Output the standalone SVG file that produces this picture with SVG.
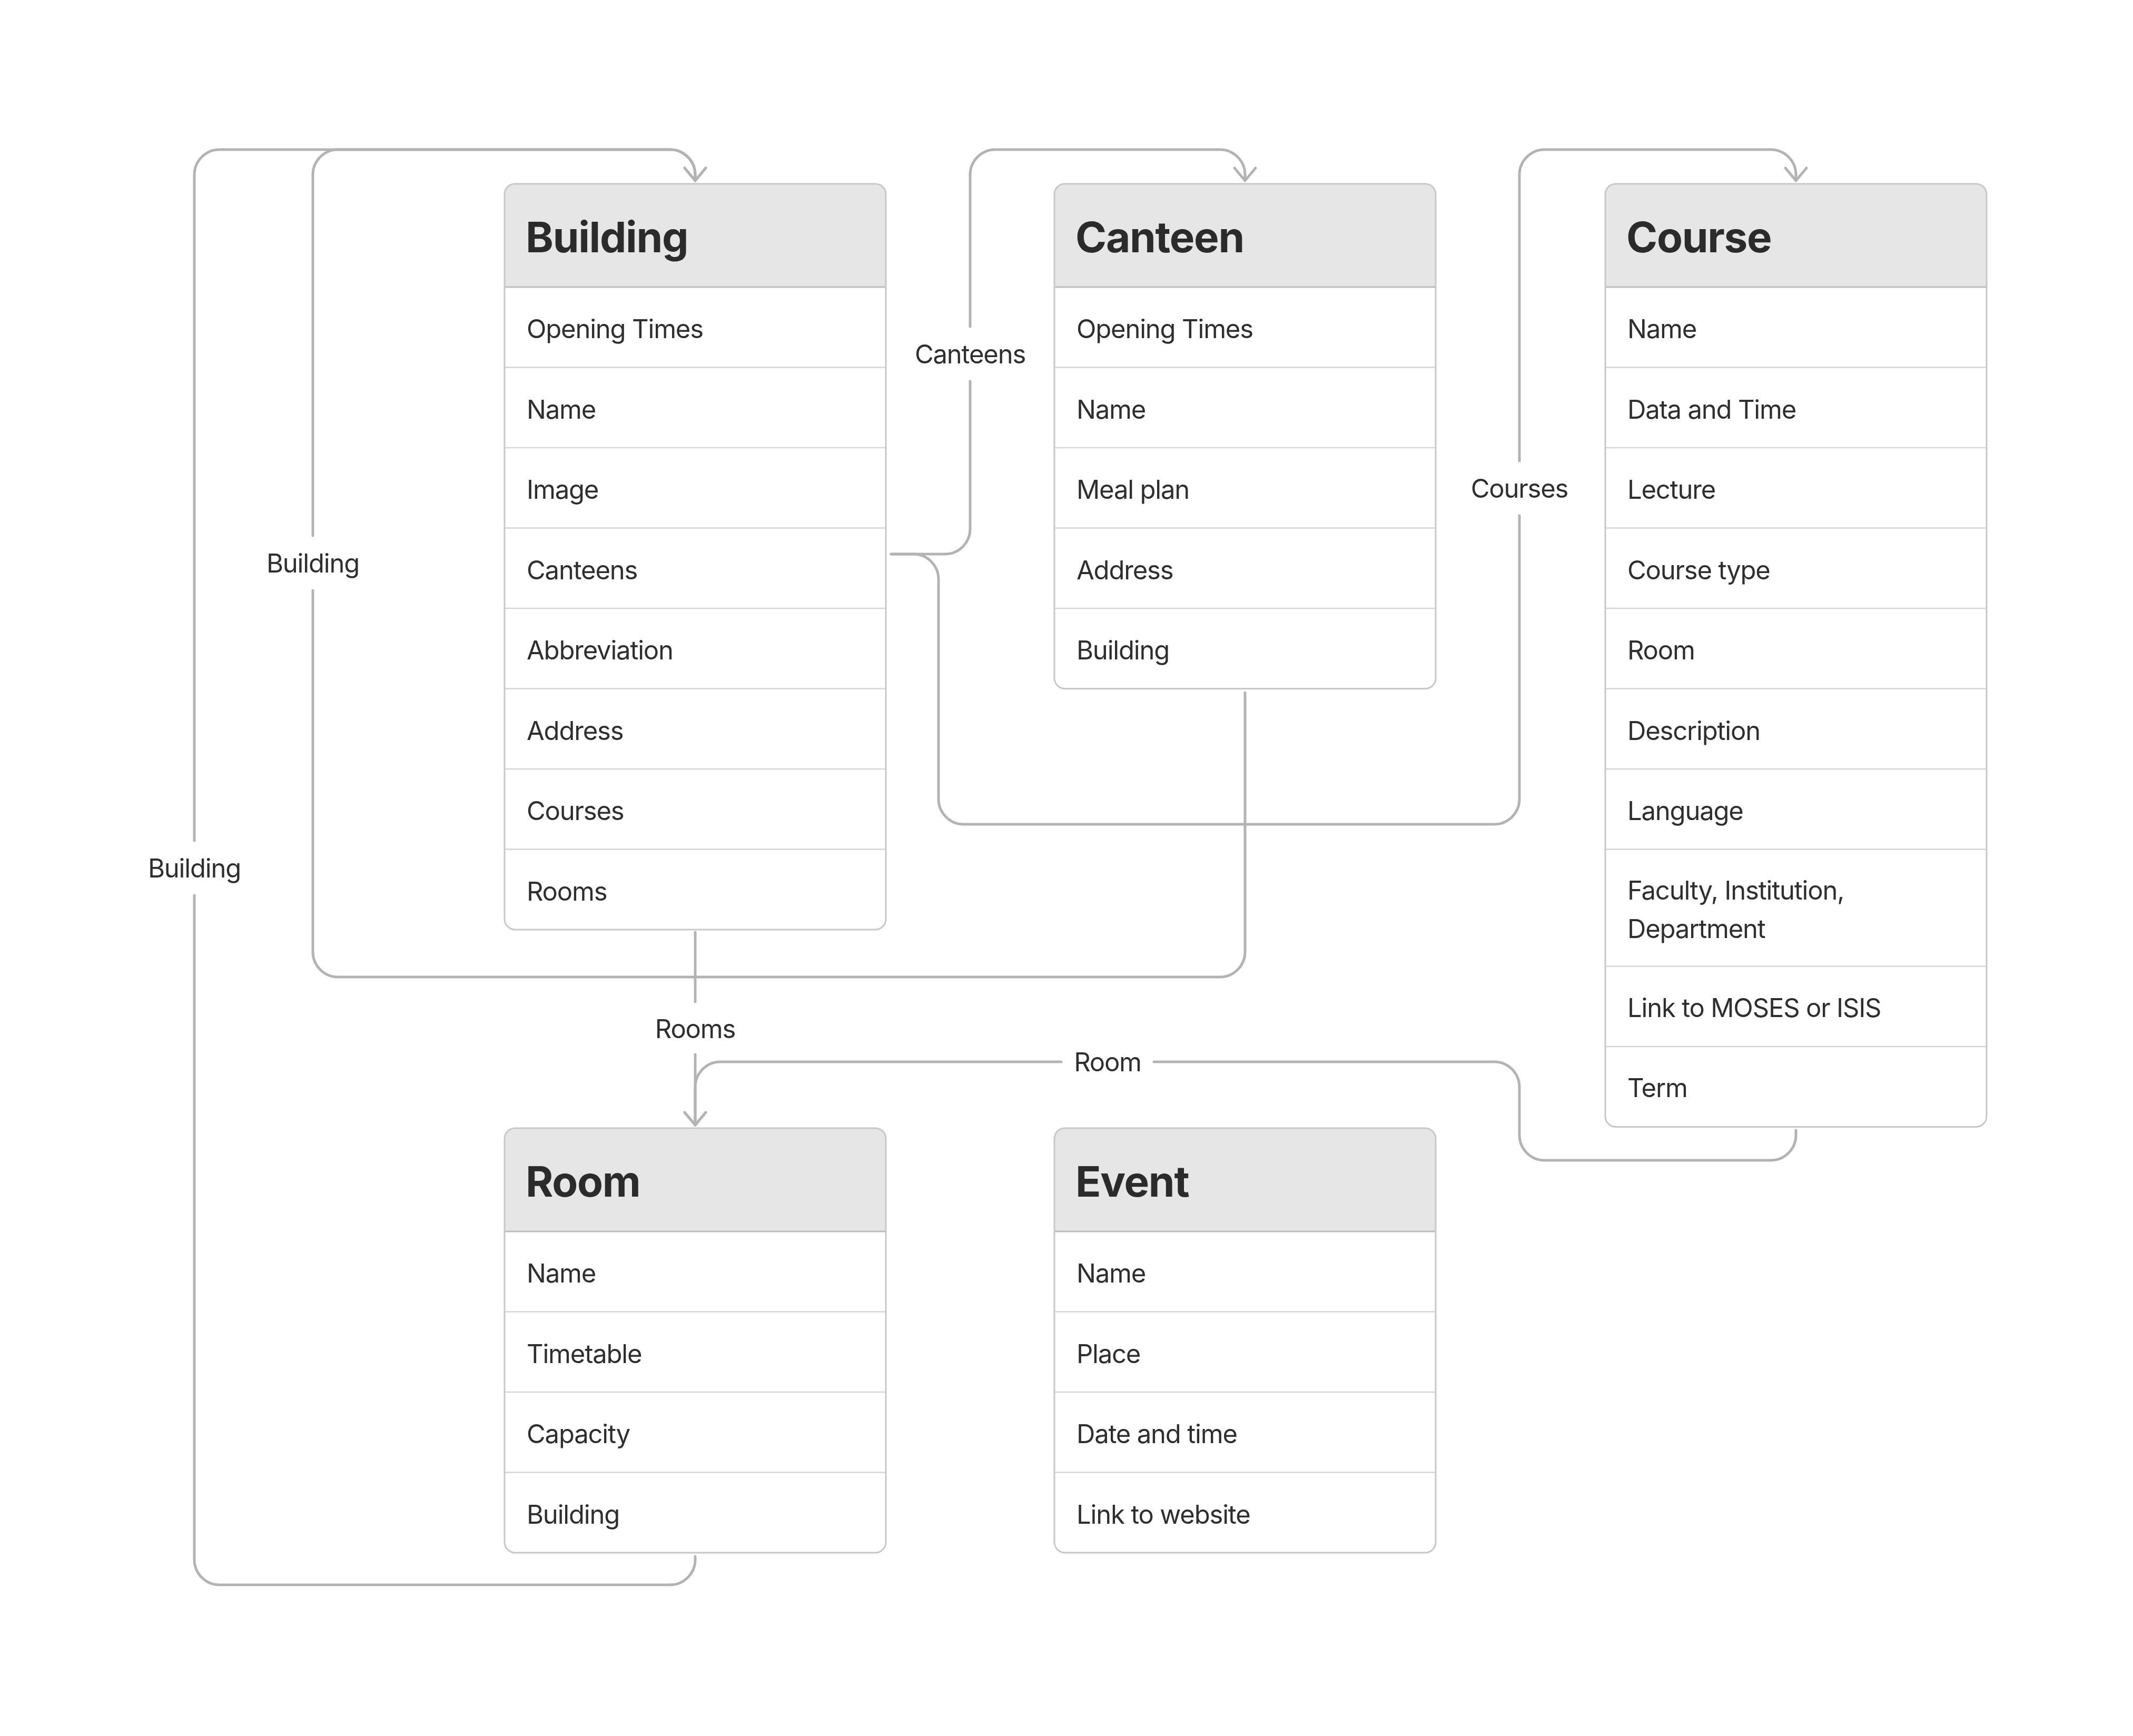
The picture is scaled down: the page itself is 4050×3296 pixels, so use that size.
<svg xmlns="http://www.w3.org/2000/svg" width="4050" height="3296" viewBox="0 0 4050 3296">
<style>
.bg{fill:#ffffff;stroke:none}
.hd{fill:#e6e6e6;stroke:none}
.bd{fill:none;stroke:#c8c8c8;stroke-width:3}
.hl{stroke:#bcbcbc;stroke-width:3}
.sep{stroke:#d6d6d6;stroke-width:2.5}
.title{font-family:Inter,"Liberation Sans",sans-serif;font-weight:700;font-size:80px;letter-spacing:-1.3px;fill:#2b2b2b}
.row{font-family:Inter,"Liberation Sans",sans-serif;font-size:49px;letter-spacing:-1.2px;fill:#2e2e2e}
.lbl{font-family:Inter,"Liberation Sans",sans-serif;font-size:49px;letter-spacing:-1.2px;fill:#2e2e2e;text-anchor:middle}
.con{fill:none;stroke:#b3b3b3;stroke-width:5;stroke-linecap:round}
</style>
<defs>
<marker id="arr" markerUnits="userSpaceOnUse" markerWidth="70" markerHeight="70" viewBox="-35 -35 70 70" refX="0" refY="0" orient="auto">
<path d="M-24,-20 L0,0 L-24,20" fill="none" stroke="#b3b3b3" stroke-width="5" stroke-linecap="round" stroke-linejoin="round"/>
</marker>
</defs>
<rect x="0" y="0" width="4050" height="3296" fill="#ffffff"/>

<g id="connectors">
<path class="con" d="M1692,1052 H1794 A48,48 0 0 0 1842,1004 V724"/>
<path class="con" marker-end="url(#arr)" d="M1842,620 V332 A48,48 0 0 1 1890,284 H2316 A48,48 0 0 1 2364,332 V343"/>
<path class="con" d="M1692,1052 H1734 A48,48 0 0 1 1782,1100 V1517 A48,48 0 0 0 1830,1565 H2837 A48,48 0 0 0 2885,1517 V979"/>
<path class="con" marker-end="url(#arr)" d="M2885,875 V332 A48,48 0 0 1 2933,284 H3362 A48,48 0 0 1 3410,332 V343"/>
<path class="con" d="M1320,2955 V2961 A48,48 0 0 1 1272,3009 H417 A48,48 0 0 1 369,2961 V1700"/>
<path class="con" marker-end="url(#arr)" d="M369,1596 V332 A48,48 0 0 1 417,284 H1272 A48,48 0 0 1 1320,332 V343"/>
<path class="con" d="M2364,1315 V1807 A48,48 0 0 1 2316,1855 H642 A48,48 0 0 1 594,1807 V1121"/>
<path class="con" marker-end="url(#arr)" d="M594,1017 V332 A48,48 0 0 1 642,284 H1272 A48,48 0 0 1 1320,332 V343"/>
<path class="con" d="M1320,1770 V1902"/>
<path class="con" marker-end="url(#arr)" d="M1320,2002 V2136"/>
<path class="con" d="M3410,2146 V2155 A48,48 0 0 1 3362,2203 H2933 A48,48 0 0 1 2885,2155 V2064 A48,48 0 0 0 2837,2016 H2191"/>
<path class="con" marker-end="url(#arr)" d="M2015,2016 H1368 A48,48 0 0 0 1320,2064 V2136"/>
<text class="lbl" x="1842" y="690">Canteens</text>
<text class="lbl" x="2885" y="945">Courses</text>
<text class="lbl" x="594" y="1087">Building</text>
<text class="lbl" x="369" y="1666">Building</text>
<text class="lbl" x="1320" y="1971">Rooms</text>
<text class="lbl" x="2103" y="2034">Room</text>
</g>

<g id="building">
<rect class="bg" x="958" y="349" width="724" height="1416" rx="20"/>
<path class="hd" d="M958,545 V369 A20,20 0 0 1 978,349 H1662 A20,20 0 0 1 1682,369 V545 Z"/>
<line class="hl" x1="958" y1="545" x2="1682" y2="545"/>
<line class="sep" x1="958" y1="697.5" x2="1682" y2="697.5"/>
<line class="sep" x1="958" y1="850" x2="1682" y2="850"/>
<line class="sep" x1="958" y1="1002.5" x2="1682" y2="1002.5"/>
<line class="sep" x1="958" y1="1155" x2="1682" y2="1155"/>
<line class="sep" x1="958" y1="1307.5" x2="1682" y2="1307.5"/>
<line class="sep" x1="958" y1="1460" x2="1682" y2="1460"/>
<line class="sep" x1="958" y1="1612.5" x2="1682" y2="1612.5"/>
<rect class="bd" x="958" y="349" width="724" height="1416" rx="20"/>
<text class="title" x="998" y="479">Building</text>
<text class="row" x="1000" y="642">Opening Times</text>
<text class="row" x="1000" y="795">Name</text>
<text class="row" x="1000" y="947">Image</text>
<text class="row" x="1000" y="1100">Canteens</text>
<text class="row" x="1000" y="1252">Abbreviation</text>
<text class="row" x="1000" y="1405">Address</text>
<text class="row" x="1000" y="1557">Courses</text>
<text class="row" x="1000" y="1710">Rooms</text>
</g>

<g id="canteen">
<rect class="bg" x="2002" y="349" width="724" height="958.5" rx="20"/>
<path class="hd" d="M2002,545 V369 A20,20 0 0 1 2022,349 H2706 A20,20 0 0 1 2726,369 V545 Z"/>
<line class="hl" x1="2002" y1="545" x2="2726" y2="545"/>
<line class="sep" x1="2002" y1="697.5" x2="2726" y2="697.5"/>
<line class="sep" x1="2002" y1="850" x2="2726" y2="850"/>
<line class="sep" x1="2002" y1="1002.5" x2="2726" y2="1002.5"/>
<line class="sep" x1="2002" y1="1155" x2="2726" y2="1155"/>
<rect class="bd" x="2002" y="349" width="724" height="958.5" rx="20"/>
<text class="title" x="2042" y="479">Canteen</text>
<text class="row" x="2044" y="642">Opening Times</text>
<text class="row" x="2044" y="795">Name</text>
<text class="row" x="2044" y="947">Meal plan</text>
<text class="row" x="2044" y="1100">Address</text>
<text class="row" x="2044" y="1252">Building</text>
</g>

<g id="course">
<rect class="bg" x="3048" y="349" width="724" height="1790.5" rx="20"/>
<path class="hd" d="M3048,545 V369 A20,20 0 0 1 3068,349 H3752 A20,20 0 0 1 3772,369 V545 Z"/>
<line class="hl" x1="3048" y1="545" x2="3772" y2="545"/>
<line class="sep" x1="3048" y1="697.5" x2="3772" y2="697.5"/>
<line class="sep" x1="3048" y1="850" x2="3772" y2="850"/>
<line class="sep" x1="3048" y1="1002.5" x2="3772" y2="1002.5"/>
<line class="sep" x1="3048" y1="1155" x2="3772" y2="1155"/>
<line class="sep" x1="3048" y1="1307.5" x2="3772" y2="1307.5"/>
<line class="sep" x1="3048" y1="1460" x2="3772" y2="1460"/>
<line class="sep" x1="3048" y1="1612.5" x2="3772" y2="1612.5"/>
<line class="sep" x1="3048" y1="1834.5" x2="3772" y2="1834.5"/>
<line class="sep" x1="3048" y1="1987" x2="3772" y2="1987"/>
<rect class="bd" x="3048" y="349" width="724" height="1790.5" rx="20"/>
<text class="title" x="3088" y="479">Course</text>
<text class="row" x="3090" y="642">Name</text>
<text class="row" x="3090" y="795">Data and Time</text>
<text class="row" x="3090" y="947">Lecture</text>
<text class="row" x="3090" y="1100">Course type</text>
<text class="row" x="3090" y="1252">Room</text>
<text class="row" x="3090" y="1405">Description</text>
<text class="row" x="3090" y="1557">Language</text>
<text class="row" x="3090" y="1708">Faculty, Institution,</text>
<text class="row" x="3090" y="1781">Department</text>
<text class="row" x="3090" y="1931">Link to MOSES or ISIS</text>
<text class="row" x="3090" y="2083">Term</text>
</g>

<g id="room">
<rect class="bg" x="958" y="2142" width="724" height="806" rx="20"/>
<path class="hd" d="M958,2338 V2162 A20,20 0 0 1 978,2142 H1662 A20,20 0 0 1 1682,2162 V2338 Z"/>
<line class="hl" x1="958" y1="2338" x2="1682" y2="2338"/>
<line class="sep" x1="958" y1="2490.5" x2="1682" y2="2490.5"/>
<line class="sep" x1="958" y1="2643" x2="1682" y2="2643"/>
<line class="sep" x1="958" y1="2795.5" x2="1682" y2="2795.5"/>
<rect class="bd" x="958" y="2142" width="724" height="806" rx="20"/>
<text class="title" x="998" y="2272">Room</text>
<text class="row" x="1000" y="2435">Name</text>
<text class="row" x="1000" y="2588">Timetable</text>
<text class="row" x="1000" y="2740">Capacity</text>
<text class="row" x="1000" y="2893">Building</text>
</g>

<g id="event">
<rect class="bg" x="2002" y="2142" width="724" height="806" rx="20"/>
<path class="hd" d="M2002,2338 V2162 A20,20 0 0 1 2022,2142 H2706 A20,20 0 0 1 2726,2162 V2338 Z"/>
<line class="hl" x1="2002" y1="2338" x2="2726" y2="2338"/>
<line class="sep" x1="2002" y1="2490.5" x2="2726" y2="2490.5"/>
<line class="sep" x1="2002" y1="2643" x2="2726" y2="2643"/>
<line class="sep" x1="2002" y1="2795.5" x2="2726" y2="2795.5"/>
<rect class="bd" x="2002" y="2142" width="724" height="806" rx="20"/>
<text class="title" x="2042" y="2272">Event</text>
<text class="row" x="2044" y="2435">Name</text>
<text class="row" x="2044" y="2588">Place</text>
<text class="row" x="2044" y="2740">Date and time</text>
<text class="row" x="2044" y="2893">Link to website</text>
</g>
</svg>
